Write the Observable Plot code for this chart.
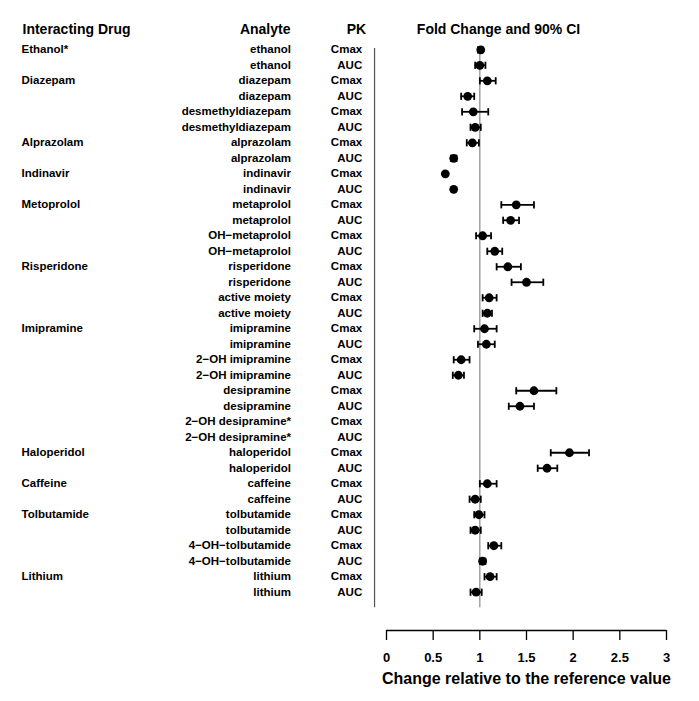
<!DOCTYPE html>
<html><head><meta charset="utf-8">
<script src="https://cdn.jsdelivr.net/npm/d3@7"></script>
<script src="https://cdn.jsdelivr.net/npm/@observablehq/plot@0.6"></script>
<style>
body{margin:0;background:#fff}
svg{font-family:"Liberation Sans",Arial,Helvetica,sans-serif}
</style>
</head><body><div id="chart"></div>
<script>
const drugs = ["Ethanol*","","Diazepam","","","","Alprazolam","","Indinavir","","Metoprolol","","","","Risperidone","","","","Imipramine","","","","","","","","Haloperidol","","Caffeine","","Tolbutamide","","","","Lithium",""];
const analytes = ["ethanol","ethanol","diazepam","diazepam","desmethyldiazepam","desmethyldiazepam","alprazolam","alprazolam","indinavir","indinavir","metaprolol","metaprolol","OH\u2212metaprolol","OH\u2212metaprolol","risperidone","risperidone","active moiety","active moiety","imipramine","imipramine","2\u2212OH imipramine","2\u2212OH imipramine","desipramine","desipramine","2\u2212OH desipramine*","2\u2212OH desipramine*","haloperidol","haloperidol","caffeine","caffeine","tolbutamide","tolbutamide","4\u2212OH\u2212tolbutamide","4\u2212OH\u2212tolbutamide","lithium","lithium"];
const pkParams = ["Cmax","AUC","Cmax","AUC","Cmax","AUC","Cmax","AUC","Cmax","AUC","Cmax","AUC","Cmax","AUC","Cmax","AUC","Cmax","AUC","Cmax","AUC","Cmax","AUC","Cmax","AUC","Cmax","AUC","Cmax","AUC","Cmax","AUC","Cmax","AUC","Cmax","AUC","Cmax","AUC"];
const foldChange = [1.01,1.00,1.08,0.87,0.93,0.95,0.92,0.72,0.63,0.72,1.39,1.33,1.03,1.16,1.30,1.50,1.10,1.08,1.05,1.07,0.80,0.77,1.58,1.43,null,null,1.96,1.72,1.08,0.95,0.99,0.95,1.15,1.03,1.11,0.96];
const ciLower = [0.98,0.95,1.00,0.80,0.81,0.90,0.86,0.69,null,null,1.23,1.25,0.96,1.08,1.18,1.34,1.03,1.03,0.94,0.98,0.72,0.71,1.39,1.31,null,null,1.76,1.62,1.00,0.89,0.94,0.90,1.09,1.00,1.05,0.90];
const ciUpper = [1.03,1.06,1.17,0.94,1.09,1.01,0.99,0.75,null,null,1.58,1.42,1.12,1.24,1.44,1.68,1.18,1.13,1.18,1.16,0.89,0.83,1.82,1.58,null,null,2.17,1.83,1.18,1.01,1.05,1.01,1.23,1.06,1.18,1.02];
const headers = ["Interacting Drug","Analyte","PK","Fold Change and 90% CI"];
const xTicks = [0,0.5,1,1.5,2,2.5,3];
const xTitle = "Change relative to the reference value";
const refValue = 1;

const rows = analytes.map((a,i)=>({row:i+1, drug:drugs[i], analyte:a, pk:pkParams[i], est:foldChange[i], lo:ciLower[i], hi:ciUpper[i]}));
const withCI = rows.filter(d=>d.lo!=null);
const withEst = rows.filter(d=>d.est!=null);

const yTop = 0.916, yBottom = 38.47, yLineEnd = 37;
const xLeftLine = -0.128;
const capSymbol = {draw(ctx, size){const h=Math.sqrt(size/Math.PI); ctx.moveTo(0,-h); ctx.lineTo(0,h);}};
const bold = {fontWeight:"bold", fill:"black"};

const chart = Plot.plot({
  width: 699, height: 701,
  marginLeft: 386, marginRight: 33, marginTop: 48, marginBottom: 71,
  x: {domain: [0,3], axis: null},
  y: {domain: [yTop, yBottom], reverse: true, axis: null},
  style: {fontFamily: '"Liberation Sans",Arial,sans-serif', background: "white", color: "black"},
  marks: [
    Plot.ruleX([xLeftLine], {y1: yTop, y2: yLineEnd, stroke: "#555", strokeWidth: 1.2}),
    Plot.ruleX([refValue], {y1: yTop, y2: yLineEnd, stroke: "#888", strokeWidth: 1.2}),
    Plot.ruleY(withCI, {y:"row", x1:"lo", x2:"hi", stroke:"black", strokeWidth:1.8}),
    Plot.dot(withCI, {y:"row", x:"lo", symbol: capSymbol, r: 3.6, fill:"none", stroke:"black", strokeWidth:1.8}),
    Plot.dot(withCI, {y:"row", x:"hi", symbol: capSymbol, r: 3.6, fill:"none", stroke:"black", strokeWidth:1.8}),
    Plot.dot(withEst, {x:"est", y:"row", r:4.4, fill:"black", stroke:"none"}),
    Plot.text(rows, {y:"row", text:"drug", frameAnchor:"left", dx:-365, textAnchor:"start", fontSize:11.5, ...bold}),
    Plot.text(rows, {y:"row", text:"analyte", frameAnchor:"left", dx:-95.5, textAnchor:"end", fontSize:11.5, ...bold}),
    Plot.text(rows, {y:"row", text:"pk", frameAnchor:"left", dx:-24.3, textAnchor:"end", fontSize:11.5, ...bold}),
    Plot.text([headers[0]], {frameAnchor:"top-left", dx:-364, dy:-24.2, textAnchor:"start", fontSize:14, ...bold}),
    Plot.text([headers[1]], {frameAnchor:"top-left", dx:-96, dy:-24.2, textAnchor:"end", fontSize:14, ...bold}),
    Plot.text([headers[2]], {frameAnchor:"top-left", dx:-20.3, dy:-24.2, textAnchor:"end", fontSize:14, ...bold}),
    Plot.text([headers[3]], {frameAnchor:"top-left", dx:112, dy:-24.2, textAnchor:"middle", fontSize:14, ...bold}),
    Plot.ruleY([yBottom], {x1:0, x2:3, stroke:"black", strokeWidth:1.3}),
    Plot.axisX({ticks: xTicks, tickSize: 10, tickPadding: 12, fontSize: 13, fontWeight: "bold", tickFormat: d=>String(d), label: null, strokeWidth: 1.3, stroke:"black", fill:"black"}),
    Plot.text([xTitle], {frameAnchor:"bottom", dy: 53, fontSize: 16, ...bold})
  ]
});
document.getElementById("chart").appendChild(chart);
</script>
</body></html>
